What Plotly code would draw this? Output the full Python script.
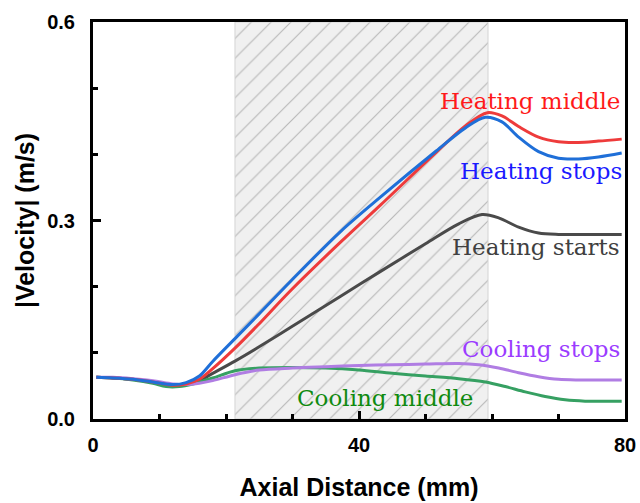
import plotly.graph_objects as go

# ---- data ----
hm_x = [0.5, 3, 6, 9, 12, 14, 16, 18, 21.35, 24.8, 29.8, 37.3, 43.3, 51.6, 56, 59.3, 61.5, 64, 67, 70, 73, 76, 79.5]
hm_y = [0.063, 0.062, 0.060, 0.056, 0.051, 0.053, 0.060, 0.076, 0.107, 0.142, 0.195, 0.268, 0.324, 0.403, 0.443, 0.463, 0.458, 0.442, 0.426, 0.419, 0.418, 0.420, 0.423]

hs_x = [0.5, 3, 6, 9, 12, 14, 16, 18, 21.35, 24.8, 29.8, 37.3, 43.3, 51.6, 56, 59, 61.5, 64, 67, 70, 73, 76, 79.5]
hs_y = [0.063, 0.062, 0.060, 0.056, 0.052, 0.055, 0.065, 0.087, 0.1215, 0.157, 0.209, 0.284, 0.336, 0.405, 0.440, 0.456, 0.449, 0.426, 0.404, 0.394, 0.393, 0.396, 0.402]

hst_x = [0.5, 3, 6, 9, 12, 14, 16, 18, 21.35, 24.8, 29.8, 37.3, 43.3, 50, 55, 58.5, 61, 64, 67, 70, 73, 76, 79.5]
hst_y = [0.063, 0.062, 0.060, 0.056, 0.051, 0.052, 0.058, 0.069, 0.0875, 0.108, 0.139, 0.186, 0.2235, 0.265, 0.295, 0.309, 0.304, 0.290, 0.281, 0.279, 0.279, 0.279, 0.279]

cs_x = [0.5, 3, 6, 9, 12, 14, 16, 18, 21.35, 25, 30, 35, 40, 45, 50, 55, 58, 61, 64, 67, 70, 73, 79.5]
cs_y = [0.063, 0.063, 0.061, 0.058, 0.053, 0.052, 0.054, 0.058, 0.067, 0.074, 0.077, 0.079, 0.081, 0.082, 0.083, 0.084, 0.082, 0.077, 0.070, 0.064, 0.060, 0.059, 0.059]

cm_x = [0.5, 3, 6, 9, 11, 13, 15, 18, 21.35, 25, 30, 35, 40, 45, 50, 55, 59, 62, 65, 68, 71, 74, 79.5]
cm_y = [0.063, 0.062, 0.059, 0.054, 0.049, 0.049, 0.053, 0.062, 0.073, 0.077, 0.078, 0.077, 0.074, 0.069, 0.065, 0.061, 0.056, 0.049, 0.041, 0.034, 0.029, 0.027, 0.027]

heating_zone = [21.35, 59.4]          # hatched region (mm)
y_limits = [0, 0.6]
x_limits = [0, 80]

series = [
    # name, x, y, line colour, label colour, label x, label y, anchor
    ("Heating starts", hst_x, hst_y, "#4a4a4a", "#404040", 79.6, 0.2595, "right"),
    ("Cooling middle", cm_x, cm_y, "#36a062", "#0f8a0f", 43.9, 0.0315, "center"),
    ("Cooling stops", cs_x, cs_y, "#b07de3", "#9b3cff", 79.6, 0.1065, "right"),
    ("Heating middle", hm_x, hm_y, "#ee3b3b", "#ff1a1a", 79.5, 0.480, "right"),
    ("Heating stops", hs_x, hs_y, "#1f6fd8", "#1a1aff", 79.8, 0.375, "right"),
]

fig = go.Figure()

# hatched heating zone
fig.add_trace(go.Scatter(
    x=[heating_zone[0], heating_zone[1], heating_zone[1], heating_zone[0], heating_zone[0]],
    y=[y_limits[0], y_limits[0], y_limits[1], y_limits[1], y_limits[0]],
    mode="lines", fill="toself",
    fillpattern=dict(shape="/", size=14, solidity=0.08, fgcolor="#b8b8b8",
                     bgcolor="#f0f0f0", fillmode="replace"),
    line=dict(color="#d4d4d4", width=1),
    hoverinfo="skip", showlegend=False))

for name, xs, ys, lc, tc, lx, ly, anc in series:
    fig.add_trace(go.Scatter(x=xs, y=ys, mode="lines", name=name,
                             line=dict(color=lc, width=3, shape="spline", smoothing=0.9),
                             showlegend=False))
    fig.add_annotation(x=lx, y=ly, xref="x", yref="y", text=name, showarrow=False,
                       xanchor=anc, yanchor="middle",
                       font=dict(family="DejaVu Serif", size=23, color=tc))

axis_common = dict(showline=True, linecolor="black", linewidth=3, mirror=True,
                   showgrid=False, zeroline=False, ticks="inside", tickwidth=2.5,
                   ticklen=8, tickcolor="black", automargin=False,
                   tickfont=dict(family="Liberation Sans", size=20, color="black", weight="bold"))

fig.update_xaxes(range=x_limits, tickvals=[0, 40, 80], ticktext=["0", "40", "80"],
                 minor=dict(ticks="inside", dtick=10, tick0=0, ticklen=5, tickwidth=2.5, tickcolor="black"),
                 ticklabelstandoff=6,
                 title=dict(text="Axial Distance (mm)", standoff=24,
                            font=dict(family="Liberation Sans", size=25, color="black", weight="bold")),
                 **axis_common)
fig.update_yaxes(range=y_limits, tickvals=[0, 0.3, 0.6], ticktext=["0.0", "0.3", "0.6"],
                 minor=dict(ticks="inside", dtick=0.1, tick0=0, ticklen=5, tickwidth=2.5, tickcolor="black"),
                 ticklabelstandoff=11,
                 title=dict(text="|Velocity| (m/s)", standoff=6,
                            font=dict(family="Liberation Sans", size=25, color="black", weight="bold")),
                 **axis_common)

fig.update_layout(width=640, height=503, margin=dict(l=93, r=15, t=22, b=84),
                  plot_bgcolor="white", paper_bgcolor="white")

# remove the page's default body margin so the 640x503 figure fills the window exactly
fig.write_html("out.html", config={"displayModeBar": False},
               post_script="document.body.style.margin='0';document.body.style.overflow='hidden';")
